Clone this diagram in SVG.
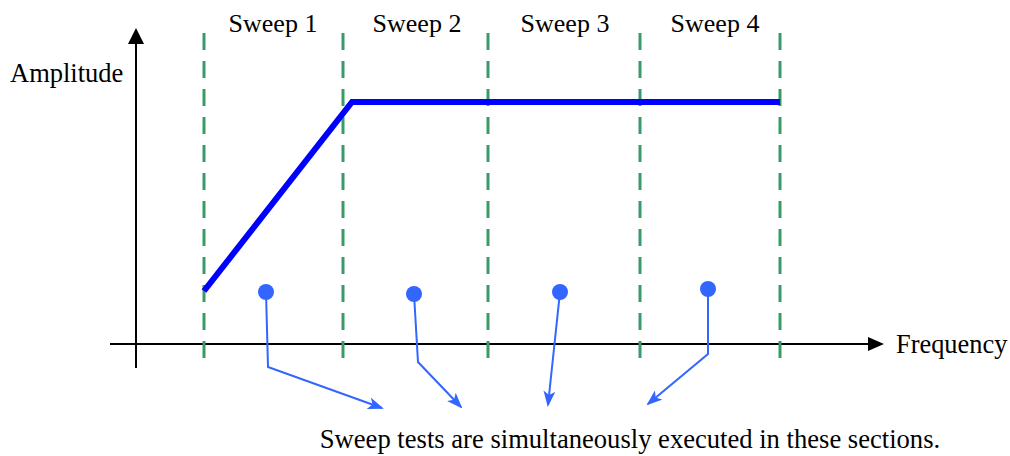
<svg xmlns="http://www.w3.org/2000/svg" width="1010" height="456" viewBox="0 0 1010 456">
<defs>
<style>
.t{font-family:'Liberation Serif','Times New Roman',Times,'DejaVu Serif',serif;font-size:26px;fill:#000}
.grid{stroke:#3a9a6a;stroke-width:3;stroke-dasharray:17 11;fill:none}
.axis{stroke:#000;stroke-width:2;fill:none}
.conn{stroke:#3366ff;stroke-width:2;fill:none;marker-end:url(#ah)}
.dot{fill:#3366ff}
</style>
<marker id="ah" viewBox="0 0 16 12" refX="14" refY="6" markerWidth="16" markerHeight="12" markerUnits="userSpaceOnUse" orient="auto">
<path d="M0,0 L16,6 L0,12 L4,6 z" fill="#3366ff"/>
</marker>
</defs>
<rect width="1010" height="456" fill="#fff"/>
<g id="axes">
<line class="axis" x1="136" y1="368" x2="136" y2="42"/>
<path d="M136,28 L144,44 L128,44 z" fill="#000"/>
<line class="axis" x1="110" y1="344" x2="870" y2="344"/>
<path d="M884,344 L868,337 L868,351 z" fill="#000"/>
</g>
<g id="gridlines">
<line class="grid" x1="204" y1="33" x2="204" y2="358"/>
<line class="grid" x1="343" y1="33" x2="343" y2="358"/>
<line class="grid" x1="488" y1="33" x2="488" y2="358"/>
<line class="grid" x1="640" y1="33" x2="640" y2="358"/>
<line class="grid" x1="780" y1="33" x2="780" y2="358"/>
</g>
<g id="curve">
<polyline points="204,291 352,102 780,102" fill="none" stroke="#0000ff" stroke-width="6" stroke-linejoin="miter"/>
</g>
<g id="labels">
<text class="t" x="10" y="82" style="font-size:26.5px">Amplitude</text>
<text class="t" x="273" y="32" text-anchor="middle">Sweep 1</text>
<text class="t" x="417" y="32" text-anchor="middle">Sweep 2</text>
<text class="t" x="565" y="32" text-anchor="middle">Sweep 3</text>
<text class="t" x="715" y="32" text-anchor="middle">Sweep 4</text>
<text class="t" x="896" y="353" style="font-size:26.4px">Frequency</text>
<text class="t" x="630" y="448" text-anchor="middle" style="font-size:26.6px">Sweep tests are simultaneously executed in these sections.</text>
</g>
<g id="dot1"><circle class="dot" cx="266" cy="292" r="8"/></g>
<g id="dot2"><circle class="dot" cx="414" cy="294" r="8"/></g>
<g id="dot3"><circle class="dot" cx="560" cy="292" r="8"/></g>
<g id="dot4"><circle class="dot" cx="708" cy="289" r="8"/></g>
<g id="connectors">
<polyline class="conn" points="266,292 268,367 382,408"/>
<polyline class="conn" points="414,294 418,362 461,407"/>
<polyline class="conn" points="560,292 548,405"/>
<polyline class="conn" points="708,289 708,354 648,404"/>
</g>
</svg>
